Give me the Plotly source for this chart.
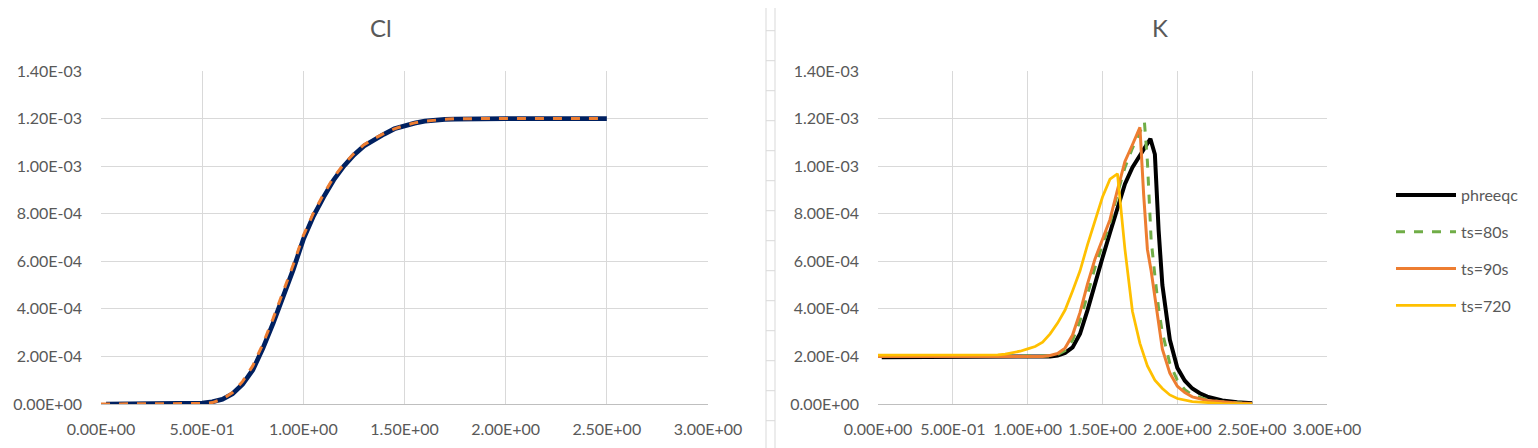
import plotly.graph_objects as go

# ---------------- data ----------------
x_ticks = [0, 0.5, 1.0, 1.5, 2.0, 2.5, 3.0]
x_tick_labels = ["0.00E+00", "5.00E-01", "1.00E+00", "1.50E+00", "2.00E+00", "2.50E+00", "3.00E+00"]
y_ticks = [0, 2e-4, 4e-4, 6e-4, 8e-4, 1.0e-3, 1.2e-3, 1.4e-3]
y_tick_labels = ["0.00E+00", "2.00E-04", "4.00E-04", "6.00E-04", "8.00E-04", "1.00E-03", "1.20E-03", "1.40E-03"]

# Cl panel
cl_phreeqc_x = [0.025, 0.1, 0.2, 0.3, 0.4, 0.5, 0.55, 0.6, 0.65, 0.7, 0.75, 0.8, 0.85, 0.9, 0.95,
                1.0, 1.05, 1.1, 1.15, 1.2, 1.25, 1.3, 1.35, 1.4, 1.45, 1.5, 1.55, 1.6, 1.65, 1.7,
                1.75, 1.8, 1.9, 2.0, 2.1, 2.2, 2.3, 2.4, 2.5]
cl_phreeqc_y = [0, 0, 0, 0, 1e-6, 4e-6, 9e-6, 2.0e-5, 4.3e-5, 8.3e-5, 1.43e-4, 2.34e-4, 3.38e-4, 4.48e-4, 5.65e-4,
                6.92e-4, 7.9e-4, 8.7e-4, 9.42e-4, 1.0e-3, 1.047e-3, 1.085e-3, 1.112e-3, 1.135e-3, 1.157e-3, 1.171e-3,
                1.181e-3, 1.189e-3, 1.194e-3, 1.197e-3, 1.198e-3, 1.199e-3, 1.2e-3, 1.2e-3, 1.2e-3, 1.2e-3, 1.2e-3,
                1.2e-3, 1.2e-3]
cl_model_x = [0, 0.1, 0.2, 0.3, 0.4, 0.5, 0.55, 0.6, 0.65, 0.7, 0.75, 0.8, 0.85, 0.9, 0.95,
              1.0, 1.05, 1.1, 1.15, 1.2, 1.25, 1.3, 1.35, 1.4, 1.45, 1.5, 1.55, 1.6, 1.65, 1.7,
              1.75, 1.8, 1.9, 2.0, 2.1, 2.2, 2.3, 2.4, 2.5]
cl_model_y = [0, 0, 0, 0, 0, 2e-6, 6e-6, 2.0e-5, 4.8e-5, 9.5e-5, 1.6e-4, 2.52e-4, 3.58e-4, 4.72e-4, 5.85e-4,
              7.08e-4, 8.03e-4, 8.82e-4, 9.53e-4, 1.008e-3, 1.053e-3, 1.09e-3, 1.116e-3, 1.138e-3, 1.157e-3,
              1.171e-3, 1.182e-3, 1.189e-3, 1.194e-3, 1.197e-3, 1.199e-3, 1.2e-3, 1.2e-3, 1.2e-3, 1.2e-3,
              1.2e-3, 1.2e-3, 1.2e-3, 1.2e-3]

# K panel
k_phreeqc_x = [0.025, 0.5, 1.0, 1.1, 1.15, 1.2, 1.25, 1.3, 1.35, 1.4, 1.45, 1.5, 1.55, 1.6, 1.65, 1.7,
               1.75, 1.8, 1.82, 1.85, 1.875, 1.9, 1.925, 1.95, 2.0, 2.05, 2.1, 2.15, 2.2, 2.3, 2.4, 2.5]
k_phreeqc_y = [1.97e-4, 1.97e-4, 1.97e-4, 1.98e-4, 2.0e-4, 2.04e-4, 2.15e-4, 2.38e-4, 2.95e-4, 3.95e-4,
               5.1e-4, 6.15e-4, 7.2e-4, 8.25e-4, 9.25e-4, 9.95e-4, 1.048e-3, 1.1e-3, 1.115e-3, 1.05e-3,
               7.3e-4, 5.0e-4, 3.7e-4, 2.7e-4, 1.52e-4, 9.8e-5, 6.5e-5, 4.5e-5, 3.1e-5, 1.5e-5, 7e-6, 3e-6]
k_ts80_x = [0, 0.5, 1.0, 1.1, 1.15, 1.2, 1.25, 1.3, 1.35, 1.4, 1.45, 1.5, 1.55, 1.6, 1.65, 1.7, 1.75,
            1.78, 1.8, 1.825, 1.85, 1.875, 1.9, 1.95, 2.0, 2.05, 2.1, 2.2, 2.3, 2.4, 2.5]
k_ts80_y = [2.0e-4, 2.0e-4, 2.0e-4, 2.0e-4, 2.02e-4, 2.08e-4, 2.25e-4, 2.68e-4, 3.5e-4, 4.6e-4, 5.75e-4,
            6.7e-4, 7.6e-4, 8.85e-4, 9.95e-4, 1.075e-3, 1.14e-3, 1.186e-3, 1.02e-3, 6.9e-4, 5.4e-4, 4.0e-4,
            3.0e-4, 1.7e-4, 1.0e-4, 6.0e-5, 3.8e-5, 1.8e-5, 9e-6, 4e-6, 2e-6]
k_ts90_x = [0, 0.5, 1.0, 1.1, 1.15, 1.2, 1.25, 1.3, 1.35, 1.4, 1.45, 1.5, 1.55, 1.6, 1.65, 1.7, 1.75,
            1.775, 1.8, 1.825, 1.85, 1.875, 1.9, 1.95, 2.0, 2.05, 2.1, 2.2, 2.3, 2.4, 2.5]
k_ts90_y = [2.0e-4, 2.0e-4, 2.0e-4, 2.0e-4, 2.04e-4, 2.12e-4, 2.35e-4, 2.9e-4, 3.85e-4, 5.05e-4, 6.1e-4,
            6.9e-4, 7.75e-4, 9.0e-4, 1.02e-3, 1.09e-3, 1.163e-3, 8.8e-4, 6.5e-4, 5.6e-4, 4.5e-4, 3.2e-4,
            2.3e-4, 1.3e-4, 7.5e-5, 4.8e-5, 3.0e-5, 1.5e-5, 8e-6, 4e-6, 2e-6]
k_ts720_x = [0, 0.5, 0.8, 0.85, 0.9, 0.95, 1.0, 1.05, 1.1, 1.15, 1.2, 1.25, 1.3, 1.35, 1.4, 1.45, 1.5,
             1.55, 1.6, 1.65, 1.7, 1.75, 1.8, 1.85, 1.9, 1.95, 2.0, 2.1, 2.2, 2.3, 2.4, 2.5]
k_ts720_y = [2.05e-4, 2.05e-4, 2.07e-4, 2.1e-4, 2.15e-4, 2.22e-4, 2.32e-4, 2.42e-4, 2.6e-4, 2.95e-4,
             3.4e-4, 3.95e-4, 4.75e-4, 5.6e-4, 6.7e-4, 7.7e-4, 8.7e-4, 9.45e-4, 9.68e-4, 6.5e-4, 3.9e-4,
             2.55e-4, 1.6e-4, 1.0e-4, 6.5e-5, 3.8e-5, 2.3e-5, 1.0e-5, 5e-6, 2e-6, 1e-6, 0]

# ---------------- style ----------------
# the page body adds an 8px margin; the figure is sized so it fills the window exactly
OX, OY = 8, 8
W, H = 1538 - OX, 448 - OY
FONT = "Lato, 'Open Sans', sans-serif"
TXT = "#595959"
GRID = "#D9D9D9"


def px(p):
    return (p - OX) / W


def py(p):
    return 1 - (p - OY) / H


fig = go.Figure()

fig.add_trace(go.Scatter(x=cl_phreeqc_x, y=cl_phreeqc_y, mode="lines", name="phreeqc",
                         line=dict(color="#002060", width=4.75), showlegend=False,
                         xaxis="x", yaxis="y"))
fig.add_trace(go.Scatter(x=cl_model_x, y=cl_model_y, mode="lines", name="model",
                         line=dict(color="#ED7D31", width=3, dash="dash"), showlegend=False,
                         xaxis="x", yaxis="y"))

fig.add_trace(go.Scatter(x=k_phreeqc_x, y=k_phreeqc_y, mode="lines", name="phreeqc",
                         line=dict(color="#000000", width=4), legendgroup="a",
                         xaxis="x2", yaxis="y2"))
fig.add_trace(go.Scatter(x=k_ts80_x, y=k_ts80_y, mode="lines", name="ts=80s",
                         line=dict(color="#70AD47", width=3, dash="dash"), legendgroup="b",
                         xaxis="x2", yaxis="y2"))
fig.add_trace(go.Scatter(x=k_ts90_x, y=k_ts90_y, mode="lines", name="ts=90s",
                         line=dict(color="#ED7D31", width=3), legendgroup="c",
                         xaxis="x2", yaxis="y2"))
fig.add_trace(go.Scatter(x=k_ts720_x, y=k_ts720_y, mode="lines", name="ts=720",
                         line=dict(color="#FFC000", width=2.75), legendgroup="d",
                         xaxis="x2", yaxis="y2"))


def xax(domain, anchor):
    return dict(domain=domain, anchor=anchor, range=[0, 3], tickmode="array",
                tickvals=x_ticks, ticktext=x_tick_labels, showgrid=True, gridcolor=GRID,
                gridwidth=1, zeroline=False, showline=True, linecolor="#BFBFBF", linewidth=1,
                ticks="", tickangle=0, ticklabelstandoff=11, automargin=False,
                tickfont=dict(family=FONT, size=16, color=TXT), fixedrange=True)


def yax(anchor):
    return dict(domain=[py(404), py(71)], anchor=anchor, range=[0, 1.4e-3],
                tickmode="array", tickvals=y_ticks, ticktext=y_tick_labels, showgrid=True,
                gridcolor=GRID, gridwidth=1, zeroline=False, showline=False, ticks="",
                ticklabelstandoff=18, automargin=False,
                tickfont=dict(family=FONT, size=16, color=TXT), fixedrange=True)


shapes = [
    dict(type="line", xref="paper", yref="paper", x0=px(766), x1=px(766), y0=0, y1=1,
         line=dict(color=GRID, width=1)),
    dict(type="line", xref="paper", yref="paper", x0=px(775), x1=px(775), y0=0, y1=1,
         line=dict(color=GRID, width=1)),
]
for k in range(1, 15):
    yy = py(0.7 + 30 * k)
    shapes.append(dict(type="line", xref="paper", yref="paper", x0=px(766), x1=px(775),
                       y0=yy, y1=yy, line=dict(color=GRID, width=1)))

fig.update_layout(
    width=W, height=H, margin=dict(l=0, r=0, t=0, b=0, autoexpand=False),
    paper_bgcolor="white", plot_bgcolor="white",
    xaxis=xax([px(101), px(708)], "y"),
    yaxis=yax("x"),
    xaxis2=xax([px(878), px(1327)], "y2"),
    yaxis2=yax("x2"),
    shapes=shapes,
    annotations=[
        dict(text="Cl", x=px(381), y=py(27), xref="paper", yref="paper", showarrow=False,
             xanchor="center", yanchor="middle", font=dict(family=FONT, size=24, color=TXT)),
        dict(text="K", x=px(1160), y=py(27), xref="paper", yref="paper", showarrow=False,
             xanchor="center", yanchor="middle", font=dict(family=FONT, size=24, color=TXT)),
    ],
    legend=dict(x=px(1391), y=py(178), xanchor="left", yanchor="top",
                font=dict(family=FONT, size=16, color=TXT), tracegroupgap=13,
                bgcolor="rgba(0,0,0,0)", itemwidth=60),
    showlegend=True,
)

fig.write_html("out.html")
